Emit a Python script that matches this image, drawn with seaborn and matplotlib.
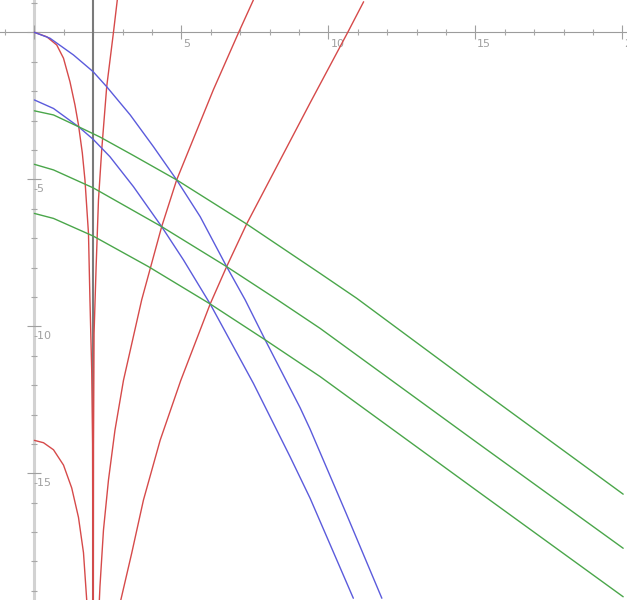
import matplotlib
matplotlib.use('Agg')
import matplotlib.pyplot as plt
import matplotlib.transforms as mtransforms
from matplotlib.ticker import MultipleLocator, FuncFormatter
import pandas as pd
import seaborn as sns

# values (data units)
red1_x = [0.0, 0.42, 0.76, 0.99, 1.21, 1.38, 1.5, 1.63, 1.72, 1.84, 1.89, 1.95, 1.98, 1.99]
red1_y = [0.0, -0.15, -0.43, -0.88, -1.68, -2.47, -3.15, -4.1, -5.02, -6.84, -9.1, -11.5, -14.0, -19.3]
red2_x = [0.0, 0.31, 0.65, 0.99, 1.27, 1.5, 1.67, 1.78]
red2_y = [-13.88, -13.96, -14.2, -14.72, -15.5, -16.5, -17.7, -19.31]
red3_x = [2.82, 2.69, 2.46, 2.29, 2.18, 2.1, 2.03, 2.01, 2.005]
red3_y = [1.1, 0.0, -1.85, -4.0, -5.7, -7.97, -10.24, -14.0, -19.3]
red4_x = [2.21, 2.23, 2.35, 2.52, 2.74, 3.03, 3.65, 4.33, 4.84, 6.09, 6.95, 7.45]
red4_y = [-19.31, -18.86, -16.93, -15.23, -13.54, -11.84, -9.1, -6.61, -5.02, -1.95, 0.0, 1.1]
red5_x = [2.94, 3.31, 3.71, 4.28, 4.98, 5.98, 6.54, 7.22, 9.38, 10.66, 11.2]
red5_y = [-19.31, -17.72, -15.91, -13.87, -11.84, -9.24, -7.97, -6.52, -2.4, 0.0, 1.04]

blue1_x = [0.0, 0.53, 1.33, 2.0, 2.46, 3.26, 4.05, 4.84, 5.64, 6.54, 7.17, 7.85, 9.04, 9.38, 10.6, 11.82]
blue1_y = [0.0, -0.2, -0.77, -1.34, -1.85, -2.81, -3.89, -5.02, -6.27, -7.97, -9.1, -10.46, -12.77, -13.5, -16.35, -19.25]
blue2_x = [0.0, 0.65, 1.5, 2.0, 2.57, 3.37, 4.33, 5.07, 5.98, 7.45, 8.7, 9.38, 10.85]
blue2_y = [-2.3, -2.59, -3.21, -3.64, -4.23, -5.25, -6.61, -7.74, -9.24, -11.94, -14.44, -15.85, -19.25]

green1_x = [0.0, 0.65, 1.5, 2.23, 3.37, 4.84, 7.22, 9.72, 10.97, 15.05, 20.03]
green1_y = [-2.67, -2.81, -3.21, -3.56, -4.19, -5.02, -6.52, -8.2, -9.05, -12.07, -15.71]
green2_x = [0.0, 0.65, 2.0, 4.33, 6.54, 8.27, 9.72, 15.05, 20.03]
green2_y = [-4.49, -4.68, -5.29, -6.61, -7.97, -9.1, -10.07, -13.95, -17.55]
green3_x = [0.0, 0.65, 2.0, 3.88, 5.98, 7.85, 9.72, 15.05, 20.03]
green3_y = [-6.16, -6.33, -6.93, -7.97, -9.24, -10.46, -11.71, -15.59, -19.2]

asymptote_x = 2
x_range = (-1.17, 20.16)
y_range = (-19.31, 1.10)

curves = [
    ('red', red1_x, red1_y), ('red', red2_x, red2_y), ('red', red3_x, red3_y),
    ('red', red4_x, red4_y), ('red', red5_x, red5_y),
    ('blue', blue1_x, blue1_y), ('blue', blue2_x, blue2_y),
    ('green', green1_x, green1_y), ('green', green2_x, green2_y),
    ('green', green3_x, green3_y),
]
rows = []
for i, (family, xs, ys) in enumerate(curves):
    for x, y in zip(xs, ys):
        rows.append({'curve': i, 'family': family, 'x': x, 'y': y})
df = pd.DataFrame(rows)

palette = {'red': '#d64a4a', 'blue': '#5b5bdc', 'green': '#4aa64a'}

sns.set_style('white')
fig = plt.figure(figsize=(6.27, 6.0), dpi=100)
ax = fig.add_axes([0, 0, 1, 1])

ax.axvline(asymptote_x, color='#7a7a7a', linewidth=1.5, zorder=1)

sns.lineplot(data=df, x='x', y='y', units='curve', hue='family',
             palette=palette, estimator=None, sort=False, legend=False,
             linewidth=1.0, ax=ax, zorder=3)

ax.set_xlim(*x_range)
ax.set_ylim(*y_range)
ax.set_xlabel('')
ax.set_ylabel('')

# axes through the origin
for side in ['top', 'right']:
    ax.spines[side].set_visible(False)
ax.spines['left'].set_position(('data', 0))
ax.spines['bottom'].set_position(('data', 0))
ax.spines['left'].set_color('#d2d2d2')
ax.spines['left'].set_linewidth(2.2)
ax.spines['bottom'].set_color('#9c9c9c')
ax.spines['bottom'].set_linewidth(0.8)
ax.spines['left'].set_zorder(0.5)
ax.spines['bottom'].set_zorder(0.5)

hide_zero = FuncFormatter(lambda v, pos: '' if abs(v) < 1e-9 else f'{v:g}')
for axis in [ax.xaxis, ax.yaxis]:
    axis.set_major_locator(MultipleLocator(5))
    axis.set_minor_locator(MultipleLocator(1))
    axis.set_major_formatter(hide_zero)

ax.tick_params(which='both', bottom=True, left=True, top=False, right=False)
ax.tick_params(which='major', direction='inout', length=9.5, width=0.8,
               colors='#a0a0a0', labelsize=8, labelcolor='#a0a0a0', pad=0)
ax.tick_params(which='minor', direction='inout', length=5, width=0.8,
               colors='#a8a8a8')

fig.canvas.draw()
dx = mtransforms.ScaledTranslation(2 / 100, 0, fig.dpi_scale_trans)
for lbl in ax.get_xticklabels():
    lbl.set_horizontalalignment('left')
    lbl.set_transform(lbl.get_transform() + dx)
dy = mtransforms.ScaledTranslation(6 / 100, -5 / 100, fig.dpi_scale_trans)
for lbl in ax.get_yticklabels():
    lbl.set_horizontalalignment('left')
    lbl.set_verticalalignment('top')
    lbl.set_transform(lbl.get_transform() + dy)

fig.savefig('out.png', dpi=100)
